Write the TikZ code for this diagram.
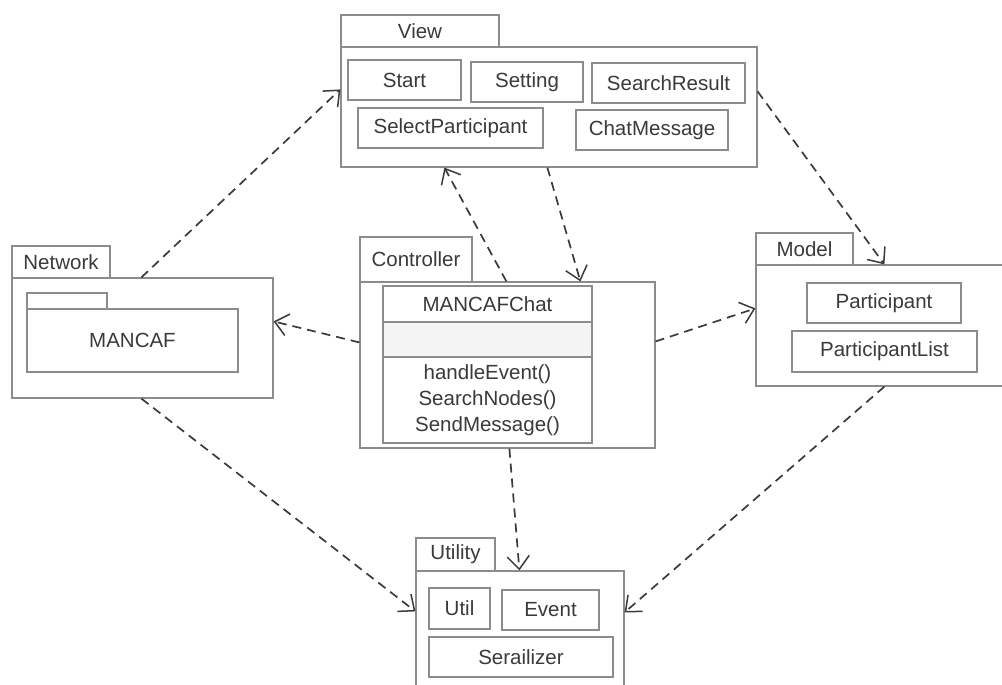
\documentclass[tikz,border=0pt]{standalone}
\usepackage{fontspec}
\setmainfont{Liberation Sans}
\usetikzlibrary{arrows.meta}
\definecolor{boxline}{HTML}{8C8C8C}
\definecolor{ink}{HTML}{3A3A3A}
\definecolor{midfill}{HTML}{F4F4F4}
\tikzset{
  box/.style={draw=boxline, line width=1.2pt, fill=white, inner sep=0pt,
    text=ink, font=\fontsize{20.5}{26}\selectfont},
  dep/.style={draw=ink, line width=1.7pt, dash pattern=on 9pt off 6pt,
    -{Straight Barb[length=13pt,width=22pt,line width=1.5pt]}},
}
\newcommand{\bx}[5]{% name, cx, cy, w, h
  \node[box, minimum width=#4pt, minimum height=#5pt] (#1) at (#2,#3)}
\begin{document}
\begin{tikzpicture}[x=1pt,y=-1pt]
\useasboundingbox (0,0) rectangle (1002,685);
\clip (0,0) rectangle (1002,685);

% View package
\bx{viewtab}{420}{31}{158}{32} {View};
\bx{viewbody}{549}{107}{416}{120} {};
\bx{vstart}{404.5}{80}{113}{40} {Start};
\bx{vsetting}{527}{82}{112}{40} {Setting};
\bx{vsearch}{668.5}{83}{153}{40} {SearchResult};
\bx{vselect}{450.5}{128}{185}{40} {SelectParticipant};
\bx{vchat}{652}{130}{152}{40} {ChatMessage};

% Network package
\bx{nettab}{61}{262}{98}{32} {Network};
\bx{netbody}{142.5}{338}{261}{120} {};
\bx{mantab}{67}{301}{80}{16} {};
\bx{manbody}{132.5}{340.5}{211}{63} {MANCAF};

% Controller package
\bx{ctrltab}{416}{259.5}{112}{45} {Controller};
\bx{ctrlbody}{507.5}{365}{295}{166} {};
\bx{clsname}{487.5}{304}{209}{36} {MANCAFChat};
\node[box, fill=midfill, minimum width=209pt, minimum height=35pt] (clsattr) at (487.5,339.5) {};
\node[box, minimum width=209pt, minimum height=86pt, align=center] (clsops) at (487.5,400)
  {handleEvent()\\SearchNodes()\\SendMessage()};

% Model package
\bx{modeltab}{804.5}{249}{97}{32} {Model};
\bx{modelbody}{882}{325.5}{252}{121} {};
\bx{mpart}{884}{303}{154}{40} {Participant};
\bx{mlist}{884.5}{351.5}{185}{41} {ParticipantList};

% Utility package
\bx{utiltab}{455.5}{554.5}{79}{33} {Utility};
\bx{utilbody}{520}{633}{208}{124} {};
\bx{uutil}{459.5}{608.5}{61}{41} {Util};
\bx{uevent}{550.5}{610}{97}{40} {Event};
\bx{userial}{521}{657}{184}{40} {Serailizer};

% Dependencies
\draw[dep] ([xshift=130pt]netbody.north west) -- ([yshift=-43pt]viewbody.north west);
\draw[dep] ([xshift=147pt]ctrlbody.north west) -- ([xshift=104pt]viewbody.south west);
\draw[dep] ([xshift=207pt]viewbody.south west) -- ([xshift=221pt]ctrlbody.north west);
\draw[dep] ([yshift=-45pt]viewbody.north east) -- ([xshift=129pt]modelbody.north west);
\draw[dep] ([yshift=-61pt]ctrlbody.north west) -- ([yshift=-44pt]netbody.north east);
\draw[dep] ([yshift=-60pt]ctrlbody.north east) -- ([yshift=-44pt]modelbody.north west);
\draw[dep] ([xshift=150pt]ctrlbody.south west) -- ([xshift=104pt]utilbody.north west);
\draw[dep] ([xshift=130pt]netbody.south west) -- ([yshift=-41pt]utilbody.north west);
\draw[dep] ([xshift=129pt]modelbody.south west) -- ([yshift=-42pt]utilbody.north east);
\end{tikzpicture}
\end{document}
